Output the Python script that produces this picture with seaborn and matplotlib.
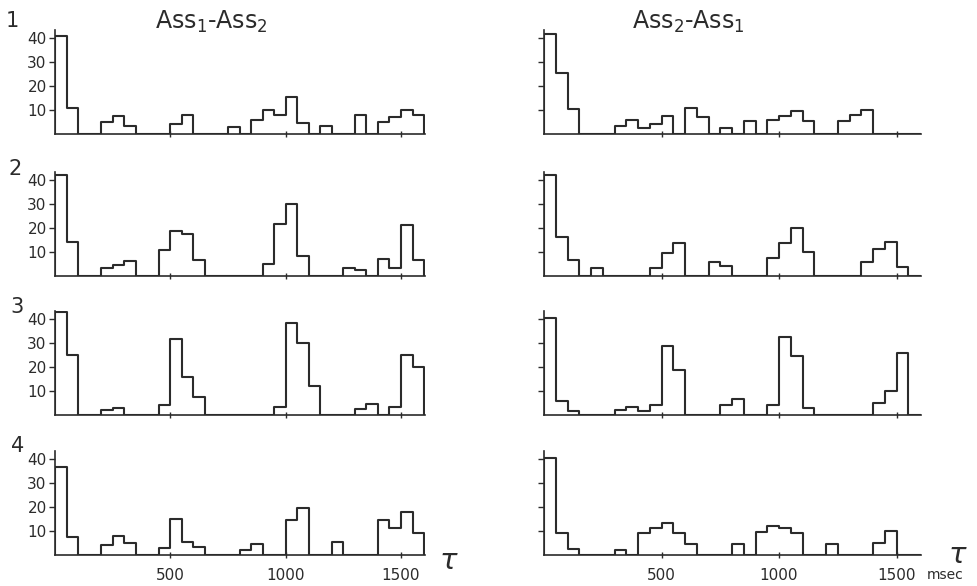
import numpy as np
import pandas as pd
import matplotlib
matplotlib.use("Agg")
import matplotlib.pyplot as plt
import seaborn as sns

# Interval histograms of the time between assembly activations, 50 ms bins from 0 to 1600 ms
BIN_WIDTH = 50
N_BINS = 32
bin_edges = np.arange(N_BINS + 1) * BIN_WIDTH
bin_centers = bin_edges[:-1] + BIN_WIDTH / 2

column_titles = ["Ass$_1$-Ass$_2$", "Ass$_2$-Ass$_1$"]
row_labels = ["1", "2", "3", "4"]
y_ticks = [10, 20, 30, 40]
x_ticks = [500, 1000, 1500]
x_tick_labels = ["500", "1000", "1500"]

# Counts per bin, Ass1 -> Ass2
ass12_row1 = [41, 11, 0, 0, 5, 7.5, 3.5, 0, 0, 0, 4, 8, 0, 0, 0, 3,
              0, 6, 10, 8, 15.5, 4.5, 0, 3.5, 0, 0, 8, 0, 5, 7, 10, 8]
ass12_row2 = [42, 14, 0, 0, 3, 4.5, 6, 0, 0, 10.5, 18.5, 17.5, 6.5, 0, 0, 0,
              0, 0, 5, 21.5, 30, 8, 0, 0, 0, 3, 2.5, 0, 7, 3, 21, 6.5]
ass12_row3 = [43, 25, 0, 0, 2, 3, 0, 0, 0, 4, 32, 16, 7.5, 0, 0, 0,
              0, 0, 0, 3.5, 38.5, 30, 12, 0, 0, 0, 2.5, 4.5, 0, 3.5, 25, 20]
ass12_row4 = [37, 7.5, 0, 0, 4, 8, 5, 0, 0, 3, 15, 5.5, 3.5, 0, 0, 0,
              2, 4.5, 0, 0, 14.5, 19.5, 0, 0, 5.5, 0, 0, 0, 14.5, 11.5, 18, 9]

# Counts per bin, Ass2 -> Ass1
ass21_row1 = [42, 25.5, 10.5, 0, 0, 0, 3.5, 6, 2.5, 4, 7.5, 0, 11, 7, 0, 2.5,
              0, 5.5, 0, 6, 7.5, 9.5, 5.5, 0, 0, 5.5, 8, 10, 0, 0, 0, 0]
ass21_row2 = [42, 16, 6.5, 0, 3, 0, 0, 0, 0, 3, 9.5, 13.5, 0, 0, 5.5, 4,
              0, 0, 0, 7.5, 13.5, 20, 10, 0, 0, 0, 0, 5.5, 11, 14, 3.5, 0]
ass21_row3 = [40.5, 6, 1.5, 0, 0, 0, 2, 3.5, 1.5, 4, 29, 19, 0, 0, 0, 4,
              6.5, 0, 0, 4, 32.5, 24.5, 3, 0, 0, 0, 0, 0, 5, 10, 26, 0]
ass21_row4 = [40.5, 9, 2.5, 0, 0, 0, 2, 0, 9, 11.5, 13.5, 9, 4.5, 0, 0, 0,
              4.5, 0, 9.5, 12, 11.5, 9, 0, 0, 4.5, 0, 0, 0, 5, 10, 0, 0]

panels = [
    [ass12_row1, ass21_row1],
    [ass12_row2, ass21_row2],
    [ass12_row3, ass21_row3],
    [ass12_row4, ass21_row4],
]

INK = "#2b2b2b"
W, H = 978, 586

sns.set_theme(style="white")
plt.rcParams["font.family"] = ["DejaVu Sans"]
plt.rcParams["mathtext.fontset"] = "dejavusans"
plt.rcParams["text.color"] = INK

fig = plt.figure(figsize=(W / 100, H / 100), dpi=100)
fig.patch.set_facecolor("white")

# pixel geometry of the panel grid
col_x = [(55, 425), (544, 921)]
row_base = [134, 275.5, 415, 555]
y_top = 43.5
px_per_unit = 2.39
x_pad = 4  # keeps the closing edge of the last bin inside the axes

axes = []
for r, row in enumerate(panels):
    for c, counts in enumerate(row):
        x0, x1 = col_x[c]
        h = y_top * px_per_unit
        ax = fig.add_axes([x0 / W, (H - row_base[r]) / H, (x1 - x0) / W, h / H])
        df = pd.DataFrame({"tau": bin_centers, "count": counts})
        # one empty bin on either side so the outline closes down to the baseline
        sns.histplot(data=df, x="tau", weights="count",
                     binwidth=BIN_WIDTH,
                     binrange=(bin_edges[0] - BIN_WIDTH, bin_edges[-1] + BIN_WIDTH),
                     element="step", fill=False, color=INK, linewidth=1.5,
                     ax=ax)
        ax.set_xlim(bin_edges[0], bin_edges[-1] + x_pad)
        ax.set_ylim(0, y_top)
        ax.set_xlabel("")
        ax.set_ylabel("")
        ax.set_facecolor("none")
        for side in ("top", "right"):
            ax.spines[side].set_visible(False)
        for side in ("left", "bottom"):
            ax.spines[side].set_color(INK)
            ax.spines[side].set_linewidth(1.2)
        ax.set_yticks(y_ticks)
        ax.set_xticks(x_ticks)
        ax.tick_params(axis="y", left=True, direction="out", length=4,
                       width=1.0, color=INK, labelcolor=INK, labelsize=11,
                       pad=2, labelleft=(c == 0))
        ax.tick_params(axis="x", bottom=True, direction="inout", length=5,
                       width=1.0, color=INK, labelcolor=INK, labelsize=11,
                       pad=7, labelbottom=(r == 3))
        if r == 3:
            ax.set_xticklabels(x_tick_labels)
        axes.append(ax)

# column titles
fig.text(211 / W, 1 - 29 / H, column_titles[0], ha="center", va="baseline",
         fontsize=17, color=INK)
fig.text(688 / W, 1 - 29 / H, column_titles[1], ha="center", va="baseline",
         fontsize=17, color=INK)

# row numbers
row_label_pos = [(12, 27), (15, 175), (17, 313), (18, 452)]
for lab, (px, py) in zip(row_labels, row_label_pos):
    fig.text(px / W, 1 - py / H, lab, ha="center", va="baseline",
             fontsize=15, color=INK)

# time axis symbol and unit
fig.text(449 / W, 1 - 561 / H, r"$\tau$", ha="center", va="center",
         fontsize=21, color=INK)
fig.text(958 / W, 1 - 555 / H, r"$\tau$", ha="center", va="center",
         fontsize=21, color=INK)
fig.text(927 / W, 1 - 575 / H, "msec", ha="left", va="center",
         fontsize=10, color=INK)

fig.savefig("out.png", dpi=100, facecolor="white")
